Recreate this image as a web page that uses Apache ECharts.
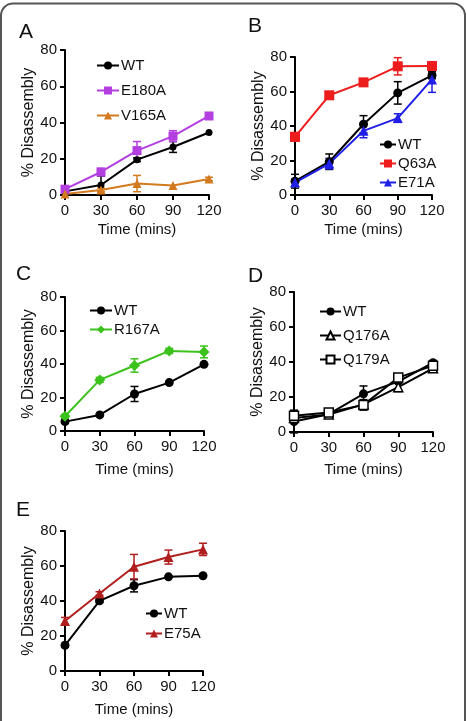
<!DOCTYPE html>
<html>
<head>
<meta charset="utf-8">
<script src="https://cdn.jsdelivr.net/npm/echarts@6/dist/echarts.min.js"></script>
<style>
  html, body { margin: 0; padding: 0; background: #fff; }
  #main { width: 467px; height: 721px; }
</style>
</head>
<body>
<div id="main"></div>
<script>
// time points (mins) and y ticks
var times = [0, 30, 60, 90, 120];
var yTicks = [0, 20, 40, 60, 80];

// panel A
var aWT = [2, 5.5, 19.5, 26.5, 34.5];
var aWTErr = [0, 5, 1, 3, 0];
var aE180A = [3.2, 12.7, 24.5, 32.5, 43.6];
var aE180AErr = [1, 2, 5, 3, 1.5];
var aV165A = [0.6, 2.8, 6.3, 5.3, 8.8];
var aV165AErr = [0, 1, 4.5, 0, 1];

// panel B
var bWT = [8, 19.3, 41, 59.2, 69.4];
var bWTErr = [4, 4.5, 5, 6.5, 2];
var bQ63A = [33.7, 57.8, 65.3, 74.6, 74.8];
var bQ63AErr = [2.5, 1, 1, 5, 2];
var bE71A = [7.2, 18.2, 37.2, 44.6, 67];
var bE71AErr = [2, 3, 4, 2.5, 7.5];

// panel C
var cWT = [5.6, 9.6, 22.1, 28.9, 39.8];
var cWTErr = [1, 0, 4.5, 0, 0];
var cR167A = [8.8, 30.5, 39.1, 47.8, 47.2];
var cR167AErr = [1, 1.5, 4, 1.5, 3.5];

// panel D
var dWT = [6, 10.2, 21.8, 28.8, 39.6];
var dWTErr = [6.5, 1, 4.5, 1, 1];
var dQ176A = [8, 10, 15.8, 25.6, 36.4];
var dQ176AErr = [2, 1, 1, 2.5, 1];
var dQ179A = [9.3, 11.2, 15.5, 31.1, 37.9];
var dQ179AErr = [2, 1, 3, 1, 1];

// panel E
var eWT = [14.7, 40.1, 48.7, 53.8, 54.4];
var eWTErr = [1, 1, 3.5, 0, 0];
var eE75A = [28.6, 44.3, 59.6, 65.1, 69.5];
var eE75AErr = [2, 1, 7, 4, 3.5];

var FONT = '"Liberation Sans", Arial, Helvetica, sans-serif';

// grids for each panel (px)
var grids = [
    {left: 65, top: 50, width: 144, height: 145},
    {left: 295, top: 57, width: 137, height: 138},
    {left: 65, top: 297, width: 139, height: 134},
    {left: 294, top: 292, width: 139, height: 140},
    {left: 65, top: 531, width: 138, height: 140}
];
var xNameGaps = [27, 27, 31, 30, 31];

function pairs(vals) {
    return vals.map(function (v, i) { return [times[i], v]; });
}
function errPairs(vals, errs) {
    var out = [];
    vals.forEach(function (v, i) {
        if (errs[i] > 0) out.push([times[i], v - errs[i], v + errs[i]]);
    });
    return out;
}

function errRender(params, api) {
    var x = api.value(0);
    var p1 = api.coord([x, api.value(2)]);
    var p2 = api.coord([x, api.value(1)]);
    var w = 4;
    var st = {stroke: api.visual('color'), lineWidth: 1.5};
    return {
        type: 'group',
        children: [
            {type: 'line', shape: {x1: p1[0], y1: p1[1], x2: p2[0], y2: p2[1]}, style: st},
            {type: 'line', shape: {x1: p1[0] - w, y1: p1[1], x2: p1[0] + w, y2: p1[1]}, style: st},
            {type: 'line', shape: {x1: p2[0] - w, y1: p2[1], x2: p2[0] + w, y2: p2[1]}, style: st}
        ]
    };
}

var series = [];
function addSeries(panel, name, vals, errs, color, symbol, size, fill) {
    series.push({
        type: 'custom',
        name: name + ' err',
        xAxisIndex: panel,
        yAxisIndex: panel,
        renderItem: errRender,
        itemStyle: {color: color},
        data: errPairs(vals, errs),
        z: 2,
        silent: true
    });
    series.push({
        type: 'line',
        name: name,
        xAxisIndex: panel,
        yAxisIndex: panel,
        data: pairs(vals),
        symbol: symbol,
        symbolSize: size,
        lineStyle: {color: color, width: 2},
        itemStyle: {color: fill || color, borderColor: color, borderWidth: fill ? 1.5 : 0},
        z: 3,
        animation: false
    });
}

addSeries(0, 'WT', aWT, aWTErr, '#000000', 'circle', 7);
addSeries(0, 'E180A', aE180A, aE180AErr, '#b43fe0', 'rect', 9);
addSeries(0, 'V165A', aV165A, aV165AErr, '#d37a1f', 'triangle', 9);

addSeries(1, 'WT', bWT, bWTErr, '#000000', 'circle', 9);
addSeries(1, 'Q63A', bQ63A, bQ63AErr, '#ee1d1d', 'rect', 10);
addSeries(1, 'E71A', bE71A, bE71AErr, '#1f1fe8', 'triangle', 10);

addSeries(2, 'WT', cWT, cWTErr, '#000000', 'circle', 9);
addSeries(2, 'R167A', cR167A, cR167AErr, '#3cc21c', 'diamond', 11);

addSeries(3, 'WT', dWT, dWTErr, '#000000', 'circle', 9);
addSeries(3, 'Q176A', dQ176A, dQ176AErr, '#000000', 'triangle', 9, '#ffffff');
addSeries(3, 'Q179A', dQ179A, dQ179AErr, '#000000', 'rect', 9, '#ffffff');

addSeries(4, 'WT', eWT, eWTErr, '#000000', 'circle', 9);
addSeries(4, 'E75A', eE75A, eE75AErr, '#b01e1e', 'triangle', 10);

var xAxes = grids.map(function (g, i) {
    return {
        gridIndex: i,
        type: 'value',
        min: 0, max: 120, interval: 30,
        name: 'Time (mins)',
        nameLocation: 'middle',
        nameGap: xNameGaps[i],
        nameTextStyle: {fontFamily: FONT, fontSize: 15, color: '#111'},
        axisLine: {lineStyle: {color: '#000', width: 2}},
        axisTick: {length: 5, lineStyle: {color: '#000', width: 2}},
        axisLabel: {fontFamily: FONT, fontSize: 15, color: '#111', margin: 8},
        splitLine: {show: false}
    };
});
var yAxes = grids.map(function (g, i) {
    return {
        gridIndex: i,
        type: 'value',
        min: yTicks[0], max: yTicks[yTicks.length - 1], interval: 20,
        name: '% Disassembly',
        nameLocation: 'middle',
        nameGap: 28,
        nameTextStyle: {fontFamily: FONT, fontSize: 16, color: '#111'},
        axisLine: {show: true, lineStyle: {color: '#000', width: 2}},
        axisTick: {show: true, length: 5, lineStyle: {color: '#000', width: 2}},
        axisLabel: {fontFamily: FONT, fontSize: 15, color: '#111', margin: 8},
        splitLine: {show: false}
    };
});

function legend(names, left, top, gap, itemW) {
    return {
        data: names,
        orient: 'vertical',
        left: left, top: top,
        padding: 0,
        itemGap: gap,
        itemWidth: itemW,
        itemHeight: 10,
        selectedMode: false,
        textStyle: {fontFamily: FONT, fontSize: 15, color: '#111', padding: [0, 0, 0, -3]}
    };
}

var letters = [['A', 19, 22], ['B', 248, 16], ['C', 16, 264], ['D', 248, 266], ['E', 16, 500]];

var option = {
    backgroundColor: '#ffffff',
    animation: false,
    title: letters.map(function (l) {
        return {text: l[0], left: l[1], top: l[2], padding: 0,
            textStyle: {fontFamily: FONT, fontSize: 21, fontWeight: 'normal', color: '#111'}};
    }),
    graphic: [{
        type: 'rect', silent: true,
        shape: {x: 1, y: 3.5, width: 464, height: 800, r: 12},
        style: {fill: 'none', stroke: '#555', lineWidth: 2}
    }],
    legend: [
        legend(['WT', 'E180A', 'V165A'], 96, 58, 10, 22),
        legend(['WT', 'Q63A', 'E71A'], 379, 137, 4, 16),
        legend(['WT', 'R167A'], 89, 303, 4, 22),
        legend(['WT', 'Q176A', 'Q179A'], 319, 304, 9, 21),
        legend(['WT', 'E75A'], 145, 606, 5, 16)
    ],
    grid: grids,
    xAxis: xAxes,
    yAxis: yAxes,
    series: series
};

var myChart = echarts.init(document.getElementById('main'));
myChart.setOption(option);
</script>
</body>
</html>
